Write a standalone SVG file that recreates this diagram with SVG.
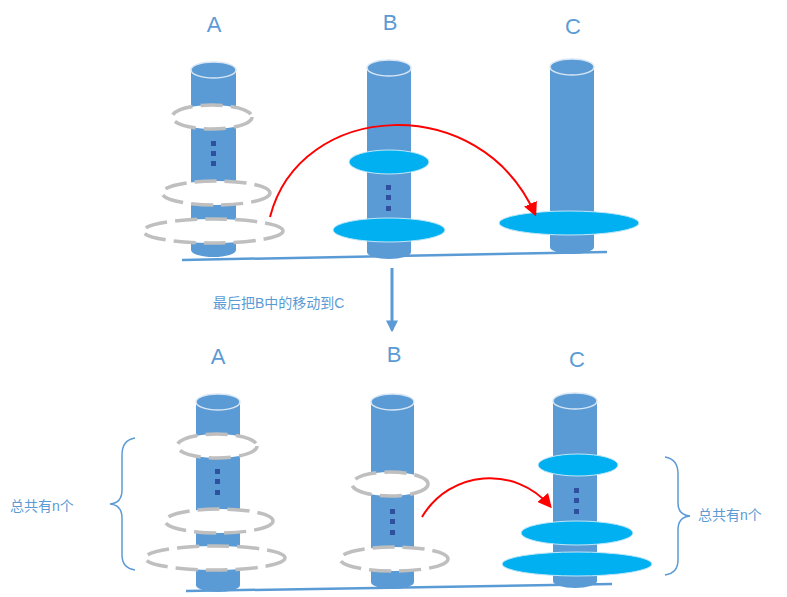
<svg xmlns="http://www.w3.org/2000/svg" width="787" height="597" viewBox="0 0 787 597">
<style>
.pole{fill:#5B9BD5}
.cap{fill:#5B9BD5;stroke:#d9e6f4;stroke-width:1.5}
.ring{fill:#fff;stroke:#bfbfbf;stroke-width:3.5;stroke-dasharray:22 8}
.disc{fill:#00B0F0;stroke:#bfe6f7;stroke-width:1}
.dot{fill:#2F4F9F}
.lbl{font-family:"Liberation Sans",Arial,sans-serif;font-size:22px;fill:#5B9BD5;text-anchor:middle}
.txt{font-family:"Liberation Sans","Noto Sans CJK SC",sans-serif;font-size:14px;fill:#5B9BD5}
.base{stroke:#5B9BD5;stroke-width:2.5}
.red{fill:none;stroke:#ff0000;stroke-width:2}
.brace{fill:none;stroke:#5B9BD5;stroke-width:1.5}
</style>
<defs>
<marker id="ra" viewBox="0 0 10 10" refX="8" refY="5" markerWidth="7" markerHeight="7" orient="auto"><path d="M0,0 L10,5 L0,10 z" fill="#ff0000"/></marker>
<marker id="ba" viewBox="0 0 10 10" refX="8" refY="5" markerWidth="4" markerHeight="4" orient="auto"><path d="M0,0 L10,5 L0,10 z" fill="#5B9BD5"/></marker>
</defs>
<g id="labels">
<text class="lbl" x="214" y="32">A</text><text class="lbl" x="390" y="30">B</text><text class="lbl" x="573" y="34">C</text>
<text class="lbl" x="218" y="364">A</text><text class="lbl" x="394" y="362">B</text><text class="lbl" x="577" y="367">C</text>
</g>
<g id="top-A">
<rect class="pole" x="191" y="70" width="45" height="180"/><ellipse class="pole" cx="213.5" cy="250" rx="22.5" ry="7"/><ellipse class="cap" cx="213.5" cy="70" rx="22.5" ry="8"/>
<ellipse class="ring" cx="212" cy="117" rx="40" ry="12"/>
<rect class="dot" x="211" y="141" width="5" height="5"/><rect class="dot" x="211" y="151" width="5" height="5"/><rect class="dot" x="211" y="161" width="5" height="5"/>
<ellipse class="ring" cx="216" cy="193" rx="54" ry="12"/>
<ellipse class="ring" cx="213" cy="231" rx="70" ry="12"/>
</g>
<g id="top-B">
<rect class="pole" x="367" y="68" width="44" height="184"/><ellipse class="pole" cx="389" cy="252" rx="22" ry="7"/><ellipse class="cap" cx="389" cy="68" rx="22" ry="8"/>
<ellipse class="disc" cx="389" cy="162" rx="40" ry="12"/>
<rect class="dot" x="386" y="185" width="5" height="5"/><rect class="dot" x="386" y="195" width="5" height="5"/><rect class="dot" x="386" y="206" width="5" height="5"/>
<ellipse class="disc" cx="389" cy="230" rx="56" ry="12"/>
</g>
<g id="top-C">
<rect class="pole" x="550" y="67" width="44" height="180"/><ellipse class="pole" cx="572" cy="247" rx="22" ry="7"/><ellipse class="cap" cx="572" cy="67" rx="22" ry="8"/>
<ellipse class="disc" cx="569" cy="223" rx="70" ry="12"/>
</g>
<g id="bot-A">
<rect class="pole" x="196" y="402" width="44" height="183"/><ellipse class="pole" cx="218" cy="585" rx="22" ry="7"/><ellipse class="cap" cx="218" cy="402" rx="22" ry="8"/>
<ellipse class="ring" cx="217" cy="446" rx="40" ry="12"/>
<rect class="dot" x="215" y="469" width="5" height="5"/><rect class="dot" x="215" y="479" width="5" height="5"/><rect class="dot" x="215" y="490" width="5" height="5"/>
<ellipse class="ring" cx="219" cy="521" rx="54" ry="12"/>
<ellipse class="ring" cx="215" cy="558" rx="70" ry="12"/>
</g>
<g id="bot-B">
<rect class="pole" x="371" y="402" width="43" height="180"/><ellipse class="pole" cx="392.5" cy="582" rx="21.5" ry="7"/><ellipse class="cap" cx="392.5" cy="402" rx="21.5" ry="8"/>
<ellipse class="ring" cx="390" cy="484" rx="38" ry="12"/>
<rect class="dot" x="390" y="509" width="5" height="5"/><rect class="dot" x="390" y="519" width="5" height="5"/><rect class="dot" x="390" y="530" width="5" height="5"/>
<ellipse class="ring" cx="394" cy="559" rx="54" ry="12"/>
</g>
<g id="bot-C">
<rect class="pole" x="553" y="401" width="44" height="180"/><ellipse class="pole" cx="575" cy="581" rx="22" ry="7"/><ellipse class="cap" cx="575" cy="401" rx="22" ry="8"/>
<ellipse class="disc" cx="578" cy="465" rx="40" ry="11"/>
<rect class="dot" x="574" y="488" width="5" height="5"/><rect class="dot" x="574" y="498" width="5" height="5"/><rect class="dot" x="574" y="509" width="5" height="5"/>
<ellipse class="disc" cx="577" cy="533" rx="56" ry="12"/>
<ellipse class="disc" cx="577" cy="564" rx="75" ry="12"/>
</g>
<g id="connectors">
<line class="base" x1="182" y1="260" x2="607" y2="252"/>
<line class="base" x1="186" y1="591" x2="612" y2="584"/>
<path class="red" d="M270,217 C300,100 480,90 535,214" marker-end="url(#ra)"/>
<path class="red" d="M422,517 C450,470 515,465 550,506" marker-end="url(#ra)"/>
<line x1="392" y1="268" x2="392" y2="330" stroke="#5B9BD5" stroke-width="3" marker-end="url(#ba)"/>
<path class="brace" d="M135,438 Q122,440 122,455 L122,490 Q122,503 110,504 Q122,505 122,518 L122,555 Q122,568 135,570"/>
<path class="brace" d="M665,457 Q678,459 678,474 L678,503 Q678,515 690,516 Q678,517 678,530 L678,560 Q678,573 665,575"/>
</g>
<g id="texts">
<text class="txt" x="213" y="308">最后把B中的移动到C</text>
<text class="txt" x="10" y="511">总共有n个</text>
<text class="txt" x="698" y="520">总共有n个</text>
</g>
</svg>
